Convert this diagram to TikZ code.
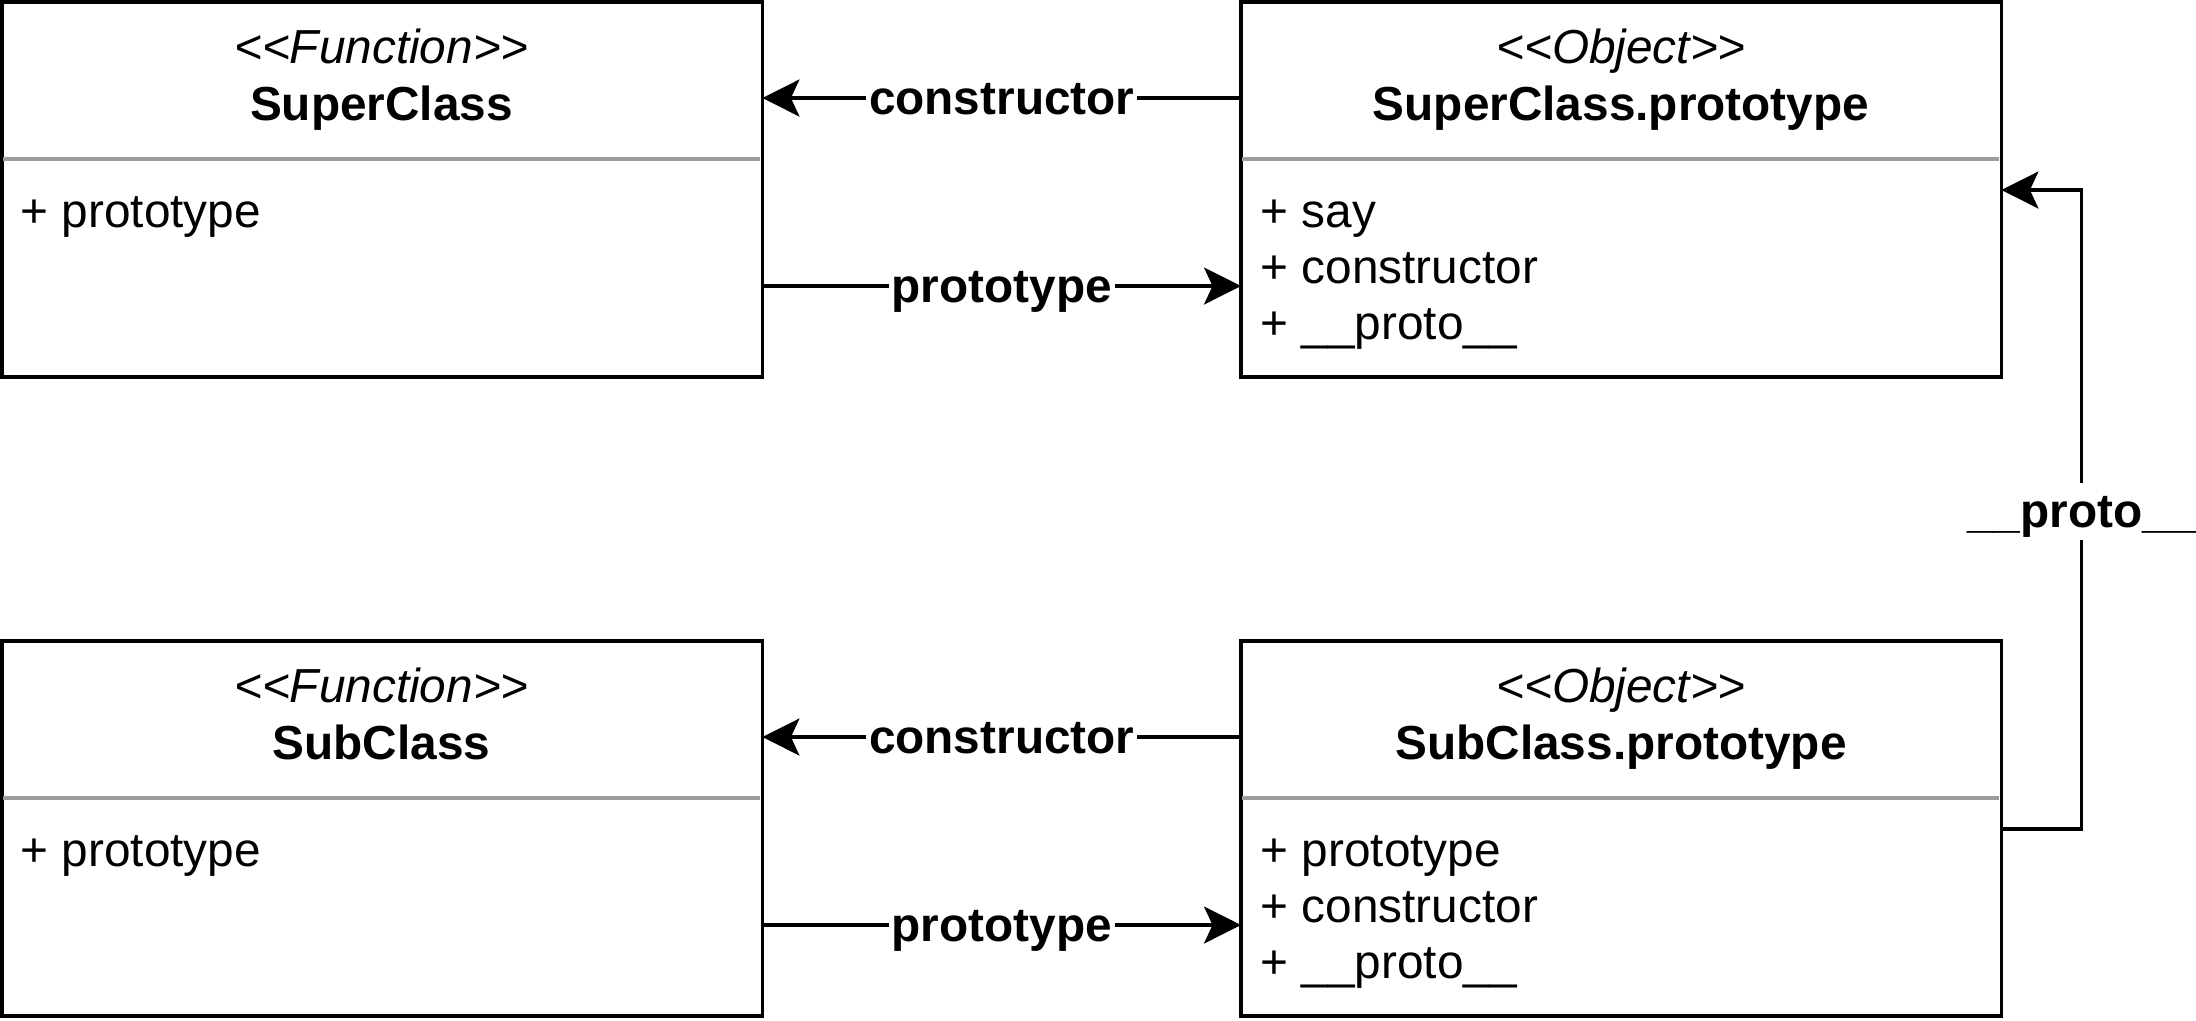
\documentclass[tikz,border=0pt]{standalone}
\usepackage{fontspec}
\setmainfont{Liberation Sans}[Ligatures=TeXOff]
\usetikzlibrary{arrows.meta,calc}
\definecolor{divgray}{HTML}{9C9C9C}
\newcommand{\umlfont}{\fontsize{13.58pt}{16pt}\selectfont}
\newcommand{\us}{\textunderscore}
\begin{document}
\begin{tikzpicture}[x=0.01cm,y=-0.01cm,
  box/.style={draw, line width=1.1pt, minimum width=7.6cm, minimum height=3.75cm,
              inner sep=0pt, outer sep=0pt, anchor=north west},
  divider/.style={draw=divgray, line width=1.1pt},
  stereo/.style={anchor=base, inner sep=0pt, font=\umlfont\itshape},
  cname/.style={anchor=base, inner sep=0pt, font=\umlfont\bfseries},
  member/.style={anchor=base west, inner sep=0pt, font=\umlfont},
  link/.style={draw, line width=1.05pt},
  arr/.style={link, -{Stealth[length=10.5pt, width=10.5pt, inset=2.4pt]}},
  elabel/.style={fill=white, inner xsep=0.8pt, inner ysep=0pt,
                 text height=0.45cm, text depth=0.12cm, font=\umlfont\bfseries}
]
\useasboundingbox (0,0) rectangle (2196,1020);

% class boxes
\node[box] (sc)  at (2,2) {};
\node[box] (spp) at (1241,2) {};
\node[box] (sb)  at (2,641) {};
\node[box] (sbp) at (1241,641) {};

% compartment dividers
\foreach \b in {sc,spp,sb,sbp}
  \draw[divider] ($(\b.north west)+(1,157)$) -- ($(\b.north east)+(-2,157)$);

% SuperClass
\node[stereo] (scS) at (381.5,63) {<<Function>>};
\node[cname]  (scN) at (381.5,120) {SuperClass};
\node[member] (scM1) at (20,227) {+ prototype};

% SuperClass.prototype
\node[stereo] (sppS) at (1621,63) {<<Object>>};
\node[cname]  (sppN) at (1621,120) {SuperClass.prototype};
\node[member] (sppM1) at (1260,227) {+ say};
\node[member] (sppM2) at (1260,283) {+ constructor};
\node[member] (sppM3) at (1260,339) {+ \us\us proto\us\us};

% SubClass
\node[stereo] (sbS) at (381.5,702.5) {<<Function>>};
\node[cname]  (sbN) at (381.5,759.5) {SubClass};
\node[member] (sbM1) at (20,866.5) {+ prototype};

% SubClass.prototype
\node[stereo] (sbpS) at (1621,702.5) {<<Object>>};
\node[cname]  (sbpN) at (1621,759.5) {SubClass.prototype};
\node[member] (sbpM1) at (1260,866.5) {+ prototype};
\node[member] (sbpM2) at (1260,922.5) {+ constructor};
\node[member] (sbpM3) at (1260,978.5) {+ \us\us proto\us\us};

% constructor / prototype links
\draw[arr] ($(spp.north west)+(0,96)$) -- node[elabel] (lc1) {constructor} ($(sc.north east)+(0,96)$);
\draw[arr] ($(sc.north east)+(0,284)$) -- node[elabel] (lp1) {prototype} ($(spp.north west)+(0,284)$);
\draw[arr] ($(sbp.north west)+(0,96)$) -- node[elabel] (lc2) {constructor} ($(sb.north east)+(0,96)$);
\draw[arr] ($(sb.north east)+(0,284)$) -- node[elabel] (lp2) {prototype} ($(sbp.north west)+(0,284)$);

% __proto__ link
\draw[arr] ($(sbp.north east)+(0,188)$) -| ($(sbp.north east)+(80,-130)$)
  node[elabel] (lpr) {\us\us proto\us\us} |- ($(spp.north east)+(0,188)$);
\end{tikzpicture}
\end{document}
